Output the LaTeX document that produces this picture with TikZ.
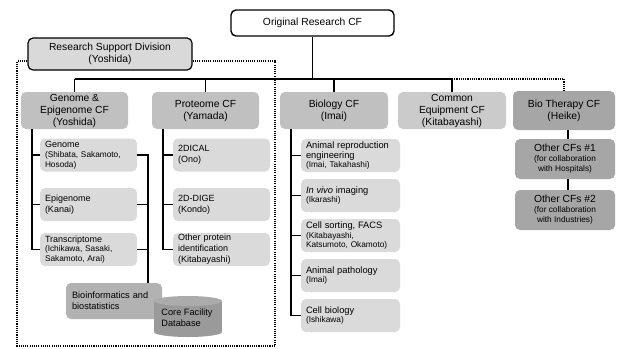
\documentclass[tikz,border=0pt]{standalone}
\usepackage{fontspec}
\setmainfont{Liberation Sans}
\begin{document}
\definecolor{cfgray}{HTML}{C0C0C0}
\definecolor{commongray}{HTML}{CBCBCB}
\definecolor{btgray}{HTML}{A6A6A6}
\definecolor{subgray}{HTML}{DADADA}
\definecolor{rsdgray}{HTML}{D9D9D9}
\definecolor{bioinfgray}{HTML}{B2B2B2}
\definecolor{cylgray}{HTML}{9A9A9A}
\definecolor{cyltop}{HTML}{ABABAB}
\newcommand{\subhead}[1]{{\fontsize{9}{10}\selectfont #1}}
\newcommand{\bighead}[1]{{\fontsize{9.3}{10.5}\selectfont #1}}
\newcommand{\smallnote}[1]{{\fontsize{8.3}{10}\selectfont #1}}
\begin{tikzpicture}[x=1pt,y=-1pt,
  conn/.style={line width=1.3pt, black},
  dotconn/.style={line width=1.2pt, black, dash pattern=on 1.1pt off 1.1pt},
  topbox/.style={draw, line width=1.4pt, rounded corners=5pt, fill=white,
    minimum width=163pt, minimum height=26pt, font=\fontsize{10.3}{12}\selectfont},
  rsdbox/.style={draw, line width=1.2pt, rounded corners=5pt, fill=rsdgray, align=center,
    minimum width=164pt, minimum height=32pt, inner sep=1pt, font=\fontsize{10.3}{12}\selectfont},
  cfbox/.style={rounded corners=5pt, align=center, minimum height=37pt, inner sep=1pt,
    font=\fontsize{10.3}{12}\selectfont},
  subbox/.style={rounded corners=5pt, fill=subgray, align=left, inner xsep=5pt, inner ysep=1pt,
    minimum height=33pt, font=\fontsize{8.3}{9.8}\selectfont},
  gsub/.style={subbox, text width=87pt},
  bsub/.style={subbox, text width=89pt},
  plainsub/.style={gsub, font=\fontsize{9}{11}\selectfont}]
\useasboundingbox (0,0) rectangle (617,348);

% top level and support division
\node[topbox] (orig) at (312.5,23) {Original Research CF};
\node[rsdbox] (rsd) at (110,54) {Research Support Division\\(Yoshida)};

% core facilities
\node[cfbox, fill=cfgray, minimum width=107pt] (genomecf) at (74.5,110.5) {Genome \&\\Epigenome CF\\(Yoshida)};
\node[cfbox, fill=cfgray, minimum width=107pt] (proteomecf) at (205.5,110.5) {Proteome CF\\(Yamada)};
\node[cfbox, fill=cfgray, minimum width=108pt] (biologycf) at (334,110.5) {Biology CF\\(Imai)};
\node[cfbox, fill=commongray, minimum width=108pt] (commoncf) at (452,110.5) {Common\\Equipment CF\\(Kitabayashi)};
\node[cfbox, fill=btgray, minimum width=102pt, minimum height=39pt] (biothcf) at (564,110.5) {Bio Therapy CF\\(Heike)};
\node[cfbox, fill=btgray, minimum width=100pt, minimum height=40pt] (other1) at (565,159)
  {Other CFs \#1\\[-2pt]\smallnote{(for collaboration}\\[-2pt]\smallnote{with Hospitals)}};
\node[cfbox, fill=btgray, minimum width=100pt, minimum height=40pt] (other2) at (565,210)
  {Other CFs \#2\\[-2pt]\smallnote{(for collaboration}\\[-2pt]\smallnote{with Industries)}};

% genome & epigenome units
\node[gsub] (genome) at (88.5,155) {\subhead{Genome}\\(Shibata, Sakamoto,\\Hosoda)};
\node[plainsub] (epigenome) at (88.5,204.5) {Epigenome\\(Kanai)};
\node[gsub] (transcr) at (88.5,249.5) {\subhead{Transcriptome}\\(Ichikawa, Sasaki,\\Sakamoto, Arai)};

% proteome units
\node[plainsub] (dical) at (221.5,155) {2DICAL\\(Ono)};
\node[plainsub] (dige) at (221.5,204.5) {2D-DIGE\\(Kondo)};
\node[plainsub] (otherprot) at (221.5,249.5) {Other protein\\identification\\(Kitabayashi)};

% biology units
\node[bsub] (repro) at (350.5,155.5) {\bighead{Animal reproduction}\\\bighead{engineering}\\(Imai, Takahashi)};
\node[bsub] (invivo) at (350.5,195.5) {\bighead{\textit{In vivo} imaging}\\(Ikarashi)};
\node[bsub] (facs) at (350.5,235.5) {\bighead{Cell sorting, FACS}\\(Kitabayashi,\\Katsumoto, Okamoto)};
\node[bsub] (patho) at (350.5,275.5) {\bighead{Animal pathology}\\(Imai)};
\node[bsub] (cellbio) at (350.5,315.5) {\bighead{Cell biology}\\(Ishikawa)};

% bioinformatics and database
\node[rounded corners=5pt, fill=bioinfgray, minimum width=96pt, minimum height=36pt,
  text width=84pt, inner xsep=6pt, align=left, font=\fontsize{9.2}{11}\selectfont]
  (bioinf) at (114,301) {Bioinformatics and\\biostatistics\\[5pt]};
\fill[cylgray] (154,301) rectangle (222,332);
\fill[cylgray] (188,332) ellipse [x radius=34pt, y radius=5pt];
\fill[cyltop] (188,301) ellipse [x radius=34pt, y radius=5pt];
\node[align=left, font=\fontsize{9.2}{11}\selectfont] (cfdb) at (187,318) {Core Facility\\Database};

% main tree
\coordinate (bus) at (312,79);
\draw[conn] (orig.south) -- (orig.south |- bus);
\draw[conn] (genomecf.north |- bus) -- (commoncf.north |- bus);
\foreach \n in {genomecf, proteomecf, biologycf, commoncf}
  \draw[conn] (\n.north |- bus) -- (\n.north);
\draw[dotconn] (commoncf.north |- bus) -| (biothcf.north);

% support division frame
\coordinate (frl) at (17,346);
\coordinate (frr) at (275,346);
\draw[dotconn] ([yshift=-7pt]rsd.west) -| (frl) -- (frr) |- ([yshift=-7pt]rsd.east);

% genome branch
\coordinate (gl) at (32,0);
\coordinate (gr) at (148,0);
\draw[conn] (genomecf.south -| gl) |- (transcr.west);
\draw[conn] (genome.west -| gl) -- (genome.west);
\draw[conn] (epigenome.west -| gl) -- (epigenome.west);
\draw[conn] (genome.east) -| (gr |- bioinf.north);
\draw[conn] (epigenome.east) -- (epigenome.east -| gr);
\draw[conn] (transcr.east) -- (transcr.east -| gr);

% proteome branch
\coordinate (pl) at (163,0);
\draw[conn] (proteomecf.south -| pl) |- (otherprot.west);
\draw[conn] (dical.west -| pl) -- (dical.west);
\draw[conn] (dige.west -| pl) -- (dige.west);

% biology branch
\coordinate (bl) at (291,0);
\draw[conn] (biologycf.south -| bl) |- (cellbio.west);
\foreach \n in {repro, invivo, facs, patho}
  \draw[conn] (\n.west -| bl) -- (\n.west);

% bio therapy chain
\coordinate (bt) at (568,0);
\draw[conn] (biothcf.south -| bt) -- (other1.north -| bt);
\draw[conn] (other1.south -| bt) -- (other2.north -| bt);
\end{tikzpicture}
\end{document}
